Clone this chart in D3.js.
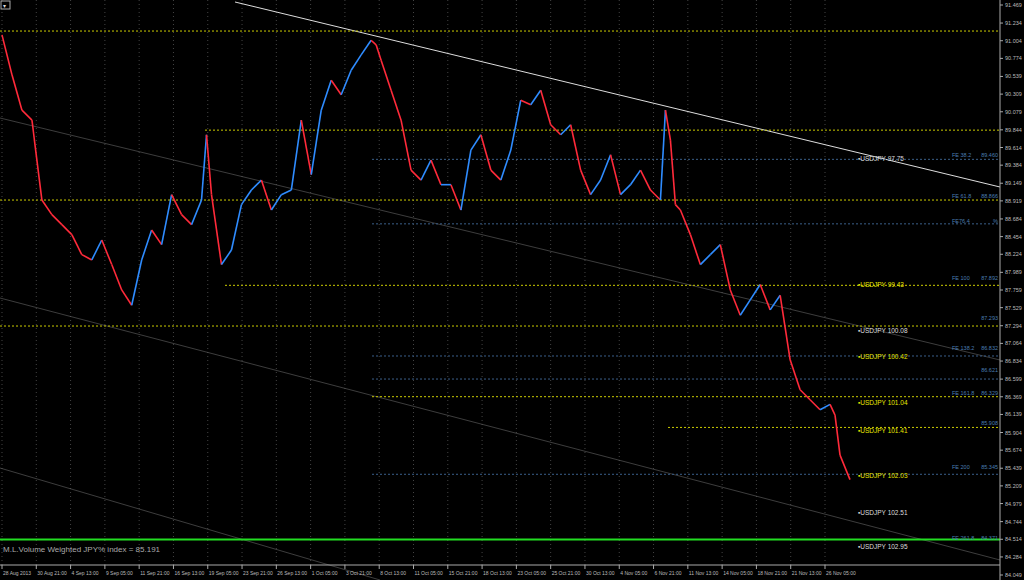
<!DOCTYPE html><html><head><meta charset="utf-8">
<script src="https://cdn.jsdelivr.net/npm/d3@7"></script>
<style>body{margin:0;background:#000}svg{display:block}</style></head><body>
<svg id="c" width="1024" height="580"></svg>
<script>
const timeLabels=["28 Aug 2013","30 Aug 21:00","4 Sep 13:00","9 Sep 05:00","11 Sep 21:00","16 Sep 13:00","19 Sep 05:00","23 Sep 21:00","26 Sep 13:00","1 Oct 05:00","3 Oct 21:00","8 Oct 13:00","11 Oct 05:00","15 Oct 21:00","18 Oct 13:00","23 Oct 05:00","25 Oct 21:00","30 Oct 13:00","4 Nov 05:00","6 Nov 21:00","11 Nov 13:00","14 Nov 05:00","18 Nov 21:00","21 Nov 13:00","26 Nov 05:00"];
const priceTicks=[91.469,91.234,91.004,90.774,90.539,90.309,90.079,89.844,89.614,89.384,89.149,88.919,88.684,88.454,88.224,87.989,87.759,87.529,87.294,87.064,86.834,86.599,86.369,86.139,85.904,85.674,85.439,85.209,84.979,84.744,84.514,84.284,84.049];
const barNo=[0,10,20,30,40,50,60,70,80,90,100,110,120,130,140,150,160,170,180,190,200,205,210,220,230,240,250,260,270,280,290,300,310,320,330,340,350,360,370,375,380,390,400,410,420,430,440,450,460,470,480,490,500,510,520,530,540,550,560,570,580,590,600,610,620,630,640,650,660,665,670,675,680,690,700,710,720,730,740,750,760,770,780,790,800,810,820,830,835,840,850];
const closes=[91.08,90.56,90.10,89.97,88.93,88.74,88.61,88.48,88.22,88.15,88.41,88.09,87.76,87.56,88.15,88.54,88.35,89.00,88.74,88.61,88.93,89.78,89.00,88.09,88.28,88.87,89.06,89.19,88.80,89.00,89.06,89.97,89.26,90.10,90.49,90.30,90.62,90.82,91.01,90.95,90.75,90.36,89.97,89.32,89.19,89.45,89.13,89.13,88.80,89.58,89.78,89.32,89.19,89.58,90.23,90.17,90.36,89.91,89.78,89.91,89.32,89.00,89.19,89.52,89.00,89.13,89.32,89.06,88.93,90.10,89.71,88.87,88.80,88.48,88.09,88.22,88.35,87.76,87.43,87.63,87.83,87.50,87.69,86.85,86.46,86.33,86.20,86.27,86.13,85.61,85.29];
const yellowLevels=[{p:91.13,x0:0},{p:89.84,x0:205},{p:88.93,x0:0},{p:87.82,x0:225},{p:87.29,x0:0},{p:86.37,x0:372},{p:85.97,x0:668}];
const blueLevels=[{p:89.46,x0:372},{p:88.62,x0:372},{p:86.90,x0:372},{p:86.60,x0:372},{p:85.36,x0:372}];
const feLabels=[["FE 38.2","89.460",89.46],["FE 61.8","88.866",88.93],["FE76.4","%",88.60],["FE 100","87.892",87.86],["","87.293",87.34],["FE 138.2","86.832",86.95],["","86.621",86.66],["FE 161.8","86.329",86.36],["","85.908",85.98],["FE 200","85.345",85.40],["FE 261.8","84.371",84.48]];
const usdLabels=[["97.75",89.46,"#ddd"],["99.43",87.82,"#e8e800"],["100.08",87.23,"#ddd"],["100.42",86.89,"#e8e800"],["101.04",86.29,"#e8e800"],["101.41",85.93,"#e8e800"],["102.03",85.34,"#e8e800"],["102.51",84.86,"#ddd"],["102.95",84.42,"#ddd"]];

const svg=d3.select("#c");
const W=1000,plotB=555;
const y=d3.scaleLinear().domain([84.049,91.469]).range([575,5]);
const x=d3.scaleLinear().domain([0,850]).range([2,850]);
const tx=d3.scalePoint().domain(timeLabels).range([2,825]);
svg.append("rect").attr("width",1024).attr("height",580).attr("fill","#000");
svg.selectAll(".vg").data(timeLabels).join("line").attr("x1",d=>tx(d)).attr("x2",d=>tx(d)).attr("y1",0).attr("y2",plotB+10).attr("stroke","#444").attr("stroke-dasharray","1,3");
[[0,118,1000,360],[0,298,1000,560],[0,468,380,580]].forEach(l=>svg.append("line").attr("x1",l[0]).attr("y1",l[1]).attr("x2",l[2]).attr("y2",l[3]).attr("stroke","#666").attr("stroke-width",0.6));
svg.append("line").attr("x1",235).attr("y1",2).attr("x2",1000).attr("y2",187).attr("stroke","#ddd").attr("stroke-width",1);
svg.selectAll(".yl").data(yellowLevels).join("line").attr("x1",d=>d.x0).attr("x2",W).attr("y1",d=>y(d.p)).attr("y2",d=>y(d.p)).attr("stroke","#cccc00").attr("stroke-dasharray","2,2");
svg.selectAll(".bl").data(blueLevels).join("line").attr("x1",d=>d.x0).attr("x2",W).attr("y1",d=>y(d.p)).attr("y2",d=>y(d.p)).attr("stroke","#3a5f8a").attr("stroke-dasharray","2,2");
svg.append("line").attr("x1",0).attr("x2",W).attr("y1",y(84.51)).attr("y2",y(84.51)).attr("stroke","#22dd22").attr("stroke-width",2);
const segs=d3.pairs(closes.map((c,i)=>({c,b:barNo[i]})));
svg.selectAll(".s").data(segs).join("line").attr("x1",d=>x(d[0].b)).attr("x2",d=>x(d[1].b)).attr("y1",d=>y(d[0].c)).attr("y2",d=>y(d[1].c)).attr("stroke",d=>d[1].c<d[0].c?"#ff2a3a":"#2f8cff").attr("stroke-width",1.6);
const g=svg.append("g").attr("font-family","Liberation Sans, Arial").attr("font-size",5.5);
feLabels.forEach(f=>{g.append("text").attr("x",952).attr("y",y(f[2])-2).attr("fill","#4a7db0").text(f[0]);g.append("text").attr("x",998).attr("y",y(f[2])-2).attr("text-anchor","end").attr("fill","#4a7db0").text(f[1]);});
usdLabels.forEach(u=>g.append("text").attr("x",858).attr("y",y(u[1])+2).attr("fill",u[2]).attr("font-size",6.5).text("▪USDJPY  "+u[0]));
svg.append("line").attr("x1",W).attr("x2",W).attr("y1",0).attr("y2",580).attr("stroke","#aaa");
svg.append("line").attr("x1",0).attr("x2",W).attr("y1",plotB+10).attr("y2",plotB+10).attr("stroke","#aaa");
const ya=svg.append("g").attr("font-family","Liberation Sans, Arial").attr("font-size",5.5).attr("fill","#bbb");
priceTicks.forEach(p=>{ya.append("line").attr("x1",W).attr("x2",W+3).attr("y1",y(p)).attr("y2",y(p)).attr("stroke","#aaa");ya.append("text").attr("x",W+5).attr("y",y(p)+2).text(p.toFixed(3));});
const xa=svg.append("g").attr("font-family","Liberation Sans, Arial").attr("font-size",5).attr("fill","#bbb");
timeLabels.forEach(t=>{xa.append("line").attr("x1",tx(t)).attr("x2",tx(t)).attr("y1",plotB+10).attr("y2",plotB+14).attr("stroke","#aaa");xa.append("text").attr("x",tx(t)+1).attr("y",plotB+20).text(t);});
svg.append("text").attr("x",3).attr("y",552).attr("fill","#aaa").attr("font-family","Liberation Sans, Arial").attr("font-size",8).text("M.L.Volume Weighted JPY% index = 85.191");
svg.append("rect").attr("x",1).attr("y",1).attr("width",9).attr("height",8).attr("fill","#000").attr("stroke","#aaa");
svg.append("text").attr("x",3).attr("y",8).attr("fill","#ddd").attr("font-size",6).text("▾");
</script></body></html>
